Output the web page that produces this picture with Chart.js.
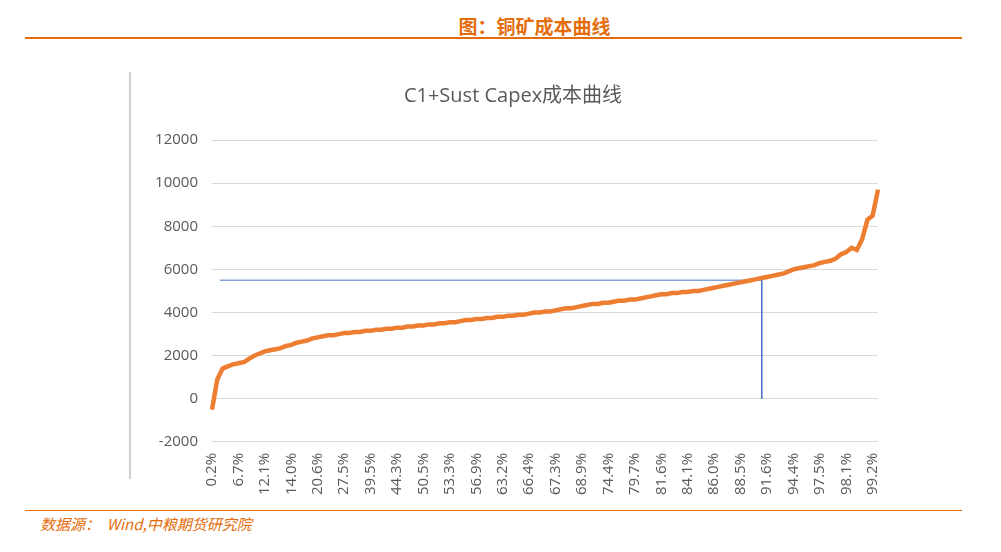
<!DOCTYPE html>
<html><head><meta charset="utf-8">
<script src="https://cdn.jsdelivr.net/npm/chart.js@4/dist/chart.umd.min.js"></script>
<style>
body{margin:0;width:1001px;height:552px;background:#fff;position:relative;font-family:"Noto Sans CJK SC",sans-serif;overflow:hidden}
#hdr{position:absolute;left:0;width:1001px;top:12px;text-align:center;padding-left:68px;box-sizing:border-box;color:#E46C0A;font-weight:bold;font-size:19px;font-family:"Noto Sans CJK SC"}
#l1{position:absolute;left:25px;width:937px;top:37px;border-top:2px solid #E46C0A}
#l2{position:absolute;left:25px;width:937px;top:510px;border-top:1.5px solid #E46C0A}
#src{position:absolute;left:40px;top:513px;color:#E46C0A;font-style:italic;font-size:15px;font-family:"Noto Sans CJK SC"}
#vl{position:absolute;left:129px;top:72px;height:407px;border-left:2px solid #d0d0d0}
#wrap{position:absolute;left:131px;top:70px;width:768px;height:428px}
</style></head><body>
<div id="hdr">图：铜矿成本曲线</div><div id="l1"></div>
<div id="vl"></div>
<div id="wrap"><canvas id="c"></canvas></div>
<div id="l2"></div><div id="src">数据源：&nbsp; Wind,中粮期货研究院</div>
<script>
const tickLabels=["0.2%","6.7%","12.1%","14.0%","20.6%","27.5%","39.5%","44.3%","50.5%","53.3%","56.9%","63.2%","66.4%","67.3%","68.9%","74.4%","79.7%","81.6%","84.1%","86.0%","88.5%","91.6%","94.4%","97.5%","98.1%","99.2%"];
const costValues=[-500,900,1400,1500,1600,1650,1700,1850,2000,2100,2200,2250,2300,2350,2450,2500,2600,2650,2700,2800,2850,2900,2950,2950,3000,3050,3050,3100,3100,3150,3150,3200,3200,3250,3250,3300,3300,3350,3350,3400,3400,3450,3450,3500,3500,3550,3550,3600,3650,3650,3700,3700,3750,3750,3800,3800,3850,3850,3900,3900,3950,4000,4000,4050,4050,4100,4150,4200,4200,4250,4300,4350,4400,4400,4450,4450,4500,4550,4550,4600,4600,4650,4700,4750,4800,4850,4850,4900,4900,4950,4950,5000,5000,5050,5100,5150,5200,5250,5300,5350,5400,5450,5500,5550,5600,5650,5700,5750,5800,5900,6000,6050,6100,6150,6200,6300,6350,6400,6500,6700,6800,7000,6900,7400,8300,8500,9700];
const refLevel=5500, refIndexStart=1.5, refIndexEnd=104;
const step=5;
const categories=costValues.map((v,i)=>i%step===0&&tickLabels[i/step]?tickLabels[i/step]:"");
new Chart(document.getElementById('c'),{
 type:'line',
 data:{labels:categories,datasets:[
  {data:costValues,borderColor:'#ED7D31',borderWidth:4.5,pointRadius:0,tension:0,xAxisID:'x'},
  {data:[{x:refIndexStart,y:refLevel},{x:refIndexEnd,y:refLevel},{x:refIndexEnd,y:0}],borderColor:'#4472C4',borderWidth:1,pointRadius:0,tension:0,xAxisID:'x2'}
 ]},
 options:{responsive:true,maintainAspectRatio:false,animation:false,
  layout:{padding:{left:0,right:4,top:0,bottom:0}},
  plugins:{legend:{display:false},tooltip:{enabled:false},
   title:{display:true,text:'C1+Sust Capex成本曲线',color:'#595959',font:{size:20,family:'"Open Sans","Noto Sans CJK SC"',weight:'normal'},padding:{top:14,bottom:32}}},
  scales:{
   x:{type:'category',offset:false,grid:{display:false},border:{display:false},
      ticks:{autoSkip:false,maxRotation:90,minRotation:90,color:'#595959',font:{size:15,family:'"Open Sans"'},
        callback:function(v,i){return categories[i];}}},
   x2:{type:'linear',display:false,min:0,max:costValues.length-1},
   y:{min:-2000,max:12000,afterFit:s=>{s.width=81;},
      ticks:{stepSize:2000,color:'#595959',font:{size:15,family:'"Open Sans"'},padding:14,callback:v=>String(v)},
      grid:{color:'#d9d9d9',drawTicks:false},border:{display:false}}
  }}
});
</script></body></html>
